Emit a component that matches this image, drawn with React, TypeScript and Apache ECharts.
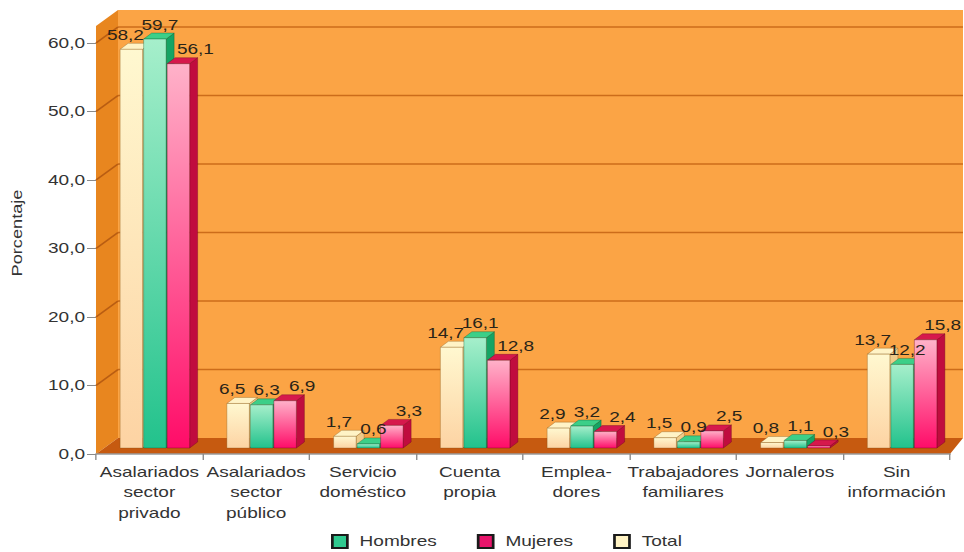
import React, { useEffect, useRef } from 'react';
import * as echarts from 'echarts';

// ---------- data ----------
const categories = [
  'Asalariados\nsector\nprivado',
  'Asalariados\nsector\npúblico',
  'Servicio\ndoméstico',
  'Cuenta\npropia',
  'Emplea-\ndores',
  'Trabajadores\nfamiliares',
  'Jornaleros',
  'Sin\ninformación',
];
const totalValues = [58.2, 6.5, 1.7, 14.7, 2.9, 1.5, 0.8, 13.7];
const hombresValues = [59.7, 6.3, 0.6, 16.1, 3.2, 0.9, 1.1, 12.2];
const mujeresValues = [56.1, 6.9, 3.3, 12.8, 2.4, 2.5, 0.3, 15.8];
const seriesNames = ['Total', 'Hombres', 'Mujeres'];
const legendOrder = ['Hombres', 'Mujeres', 'Total'];
const yMin = 0;
const yMax = 60;
const yInterval = 10;
const yAxisTitle = 'Porcentaje';

// ---------- layout (the whole chart is stretched horizontally like the original) ----------
const W = 964;
const H = 552;
const INNER_W = 709;
const S = W / INNER_W;
const px = (d: number) => d / S; // horizontal display px -> inner units

const FONT = '"Liberation Sans", Arial, sans-serif';
const TEXT = '#333333';

const WALL_DX = px(22);
const WALL_DY = -16;
const BACK_RIGHT = px(13);
const BW = px(22.5);
const PITCH = px(23.5);
const GROUP_OFF = px(5.5);
const BASE_DY = -6;
const BDX = px(8);
const BDY = -6;
const LABEL_DY = -14;

const palettes: Record<string, any> = {
  Total: {
    front0: '#fff8d0', front1: '#fdd3a3', top: '#fff3c6', side: '#efcb8a',
    edge: 'rgba(120,80,20,0.45)', legend: '#fff3c4', labelDx: px(-6),
  },
  Hombres: {
    front0: '#a6efcb', front1: '#22c28c', top: '#3ccf88', side: '#15a464',
    edge: 'rgba(0,80,40,0.45)', legend: '#2fc98f', labelDx: px(5),
  },
  Mujeres: {
    front0: '#ffb2c9', front1: '#ff0c68', top: '#d6184c', side: '#c00c3e',
    edge: 'rgba(100,0,30,0.5)', legend: '#e8156b', labelDx: px(17),
  },
};

const fmt = (v: number) => v.toFixed(1).replace('.', ',');

const seriesData: Record<string, number[]> = {
  Total: totalValues,
  Hombres: hombresValues,
  Mujeres: mujeresValues,
};

function wallRenderer(params: any, api: any) {
  const cs = params.coordSys;
  const x0 = cs.x;
  const x1 = cs.x + cs.width;
  const y0 = api.coord([0, yMin])[1];
  const yTop = api.coord([0, yMax])[1];
  const bx0 = x0 + WALL_DX;
  const bxr = x1 + BACK_RIGHT;
  const topBack = yTop - 33;
  const topFront = yTop - 17;
  const children: any[] = [
    {
      type: 'rect',
      shape: { x: bx0, y: topBack, width: bxr - bx0, height: y0 + WALL_DY - topBack },
      style: { fill: '#fba445' },
    },
    {
      type: 'polygon',
      shape: { points: [[x0, y0], [x0, topFront], [bx0, topBack], [bx0, y0 + WALL_DY]] },
      style: { fill: '#e8861f' },
    },
  ];
  for (let v = yMin + yInterval; v <= yMax; v += yInterval) {
    const y = api.coord([0, v])[1];
    children.push({
      type: 'line',
      shape: { x1: bx0, y1: y + WALL_DY, x2: bxr, y2: y + WALL_DY },
      style: { stroke: '#cc6c1a', lineWidth: 1.5 },
    });
    children.push({
      type: 'line',
      shape: { x1: x0, y1: y, x2: bx0, y2: y + WALL_DY },
      style: { stroke: '#b95d12', lineWidth: 1.5 },
    });
  }
  children.push({
    type: 'polygon',
    shape: { points: [[x0, y0], [bx0, y0 + WALL_DY], [bxr, y0 + WALL_DY], [x1, y0]] },
    style: { fill: '#c65a10' },
  });
  return { type: 'group', children };
}

function makeBarRenderer(k: number, pal: any) {
  return (params: any, api: any) => {
    const cat = api.value(0);
    const v = api.value(1);
    const p0 = api.coord([cat, 0]);
    const p1 = api.coord([cat, v]);
    const cx = p0[0] + GROUP_OFF + (k - 1) * PITCH;
    const base = p0[1] + BASE_DY;
    const top = p1[1] + BASE_DY;
    const l = cx - BW / 2;
    const r = cx + BW / 2;
    return {
      type: 'group',
      children: [
        {
          type: 'polygon',
          shape: { points: [[r, base], [r, top], [r + BDX, top + BDY], [r + BDX, base + BDY]] },
          style: { fill: pal.side, stroke: pal.edge, lineWidth: 0.6 },
        },
        {
          type: 'polygon',
          shape: { points: [[l, top], [r, top], [r + BDX, top + BDY], [l + BDX, top + BDY]] },
          style: { fill: pal.top, stroke: pal.edge, lineWidth: 0.6 },
        },
        {
          type: 'rect',
          shape: { x: l, y: top, width: BW, height: Math.max(base - top, 0.5) },
          style: {
            fill: new echarts.graphic.LinearGradient(0, 0, 0, 1, [
              { offset: 0, color: pal.front0 },
              { offset: 1, color: pal.front1 },
            ]),
            stroke: pal.edge,
            lineWidth: 0.6,
          },
        },
        {
          type: 'text',
          z2: 100,
          x: cx + pal.labelDx,
          y: top + LABEL_DY,
          style: {
            text: fmt(v),
            fill: '#2a2418',
            fontSize: 14,
            fontFamily: FONT,
            align: 'center',
            verticalAlign: 'middle',
            textAlign: 'center',
            textVerticalAlign: 'middle',
          },
        },
      ],
    };
  };
}

export default function App() {
  const ref = useRef<HTMLDivElement>(null);
  useEffect(() => {
    if (!ref.current) return;
    const chart = echarts.init(ref.current, null, { renderer: 'svg' });
    const barSeries = seriesNames.map((name, k) => ({
      name,
      type: 'custom',
      z: 2,
      itemStyle: { color: palettes[name].legend },
      renderItem: makeBarRenderer(k, palettes[name]),
      encode: { x: 0, y: 1 },
      data: seriesData[name].map((v, i) => [i, v]),
    }));
    chart.setOption({
      animation: false,
      backgroundColor: '#ffffff',
      grid: { left: px(96), right: INNER_W - px(950), top: 43, bottom: H - 454 },
      xAxis: {
        type: 'category',
        data: categories,
        z: 10,
        axisLine: { lineStyle: { color: '#9a9a9a', width: 1.5 } },
        axisTick: { show: true, length: 6, lineStyle: { color: '#8a8a8a' } },
        axisLabel: {
          interval: 0,
          fontSize: 14,
          lineHeight: 20.5,
          color: TEXT,
          fontFamily: FONT,
          margin: 8,
        },
      },
      yAxis: {
        type: 'value',
        min: yMin,
        max: yMax,
        interval: yInterval,
        z: 10,
        axisLine: { show: false },
        axisTick: { show: true, length: px(9), lineStyle: { color: '#8a8a8a' } },
        splitLine: { show: false },
        axisLabel: {
          formatter: (v: number) => fmt(v),
          fontSize: 14,
          color: TEXT,
          fontFamily: FONT,
          margin: px(11),
        },
      },
      legend: {
        left: px(331),
        top: 534,
        padding: 0,
        icon: 'rect',
        itemWidth: px(15),
        itemHeight: 13,
        itemGap: px(40),
        textStyle: { fontSize: 14, color: TEXT, fontFamily: FONT, padding: [0, 0, 0, 4] },
        data: legendOrder.map((name) => ({
          name,
          itemStyle: { color: palettes[name].legend, borderColor: '#1a1a1a', borderWidth: 2 },
        })),
      },
      graphic: [
        {
          type: 'text',
          x: px(17),
          y: 233,
          rotation: Math.PI / 2,
          scaleX: 1.3,
          scaleY: 1 / S,
          style: {
            text: yAxisTitle,
            fontSize: 14,
            fontFamily: FONT,
            fill: TEXT,
            align: 'center',
            verticalAlign: 'middle',
            textAlign: 'center',
            textVerticalAlign: 'middle',
          },
        },
      ],
      series: [
        {
          type: 'custom',
          z: 1,
          silent: true,
          renderItem: wallRenderer,
          encode: { x: 0, y: 1 },
          data: [[0, 0]],
        },
        ...barSeries,
      ],
    });
    return () => chart.dispose();
  }, []);
  return (
    <div
      ref={ref}
      style={{
        position: 'fixed',
        left: 0,
        top: 0,
        width: INNER_W,
        height: H,
        transform: `scaleX(${S})`,
        transformOrigin: '0 0',
      }}
    />
  );
}
